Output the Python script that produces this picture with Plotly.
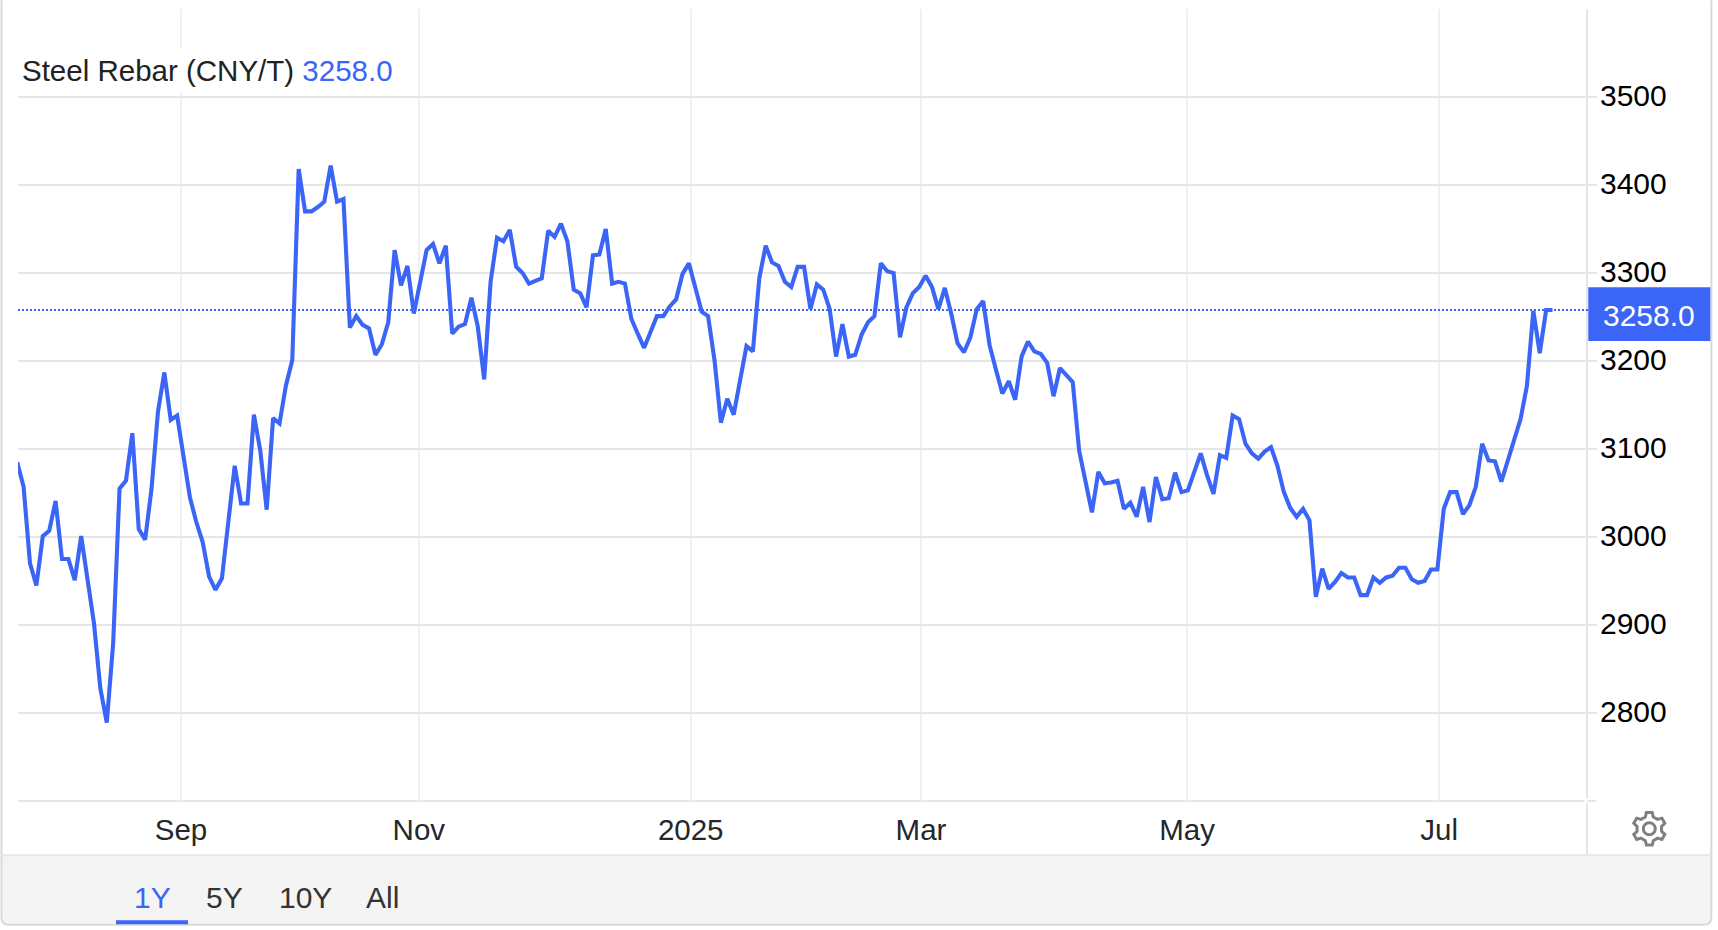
import math
import plotly.graph_objects as go

series_name = "Steel Rebar (CNY/T)"
values = [
    3085, 3057, 2970, 2945, 3001, 3007, 3041, 2975, 2975, 2951,
    3001, 2951, 2902, 2828, 2789, 2879, 3055, 3064, 3118, 3009,
    2997, 3055, 3142, 3187, 3133, 3138, 3091, 3045, 3017, 2994,
    2955, 2940, 2953, 3021, 3081, 3038, 3038, 3139, 3098, 3031,
    3135, 3129, 3172, 3201, 3418, 3370, 3370, 3375, 3381, 3422,
    3381, 3384, 3238, 3251, 3241, 3237, 3207, 3219, 3244, 3326,
    3286, 3308, 3254, 3290, 3326, 3333, 3311, 3331, 3231, 3239,
    3242, 3272, 3239, 3179, 3290, 3340, 3336, 3349, 3307, 3300,
    3288, 3291, 3294, 3348, 3341, 3356, 3336, 3281, 3277, 3261,
    3320, 3321, 3350, 3288, 3290, 3288, 3248, 3231, 3215, 3233,
    3251, 3251, 3262, 3270, 3299, 3311, 3284, 3256, 3251, 3201,
    3130, 3157, 3139, 3178, 3217, 3211, 3294, 3331, 3312, 3308,
    3290, 3284, 3307, 3307, 3259, 3287, 3281, 3259, 3205, 3242,
    3205, 3207, 3230, 3244, 3251, 3311, 3302, 3300, 3227, 3261,
    3277, 3284, 3297, 3284, 3259, 3283, 3254, 3220, 3210, 3227,
    3259, 3268, 3218, 3190, 3163, 3177, 3156, 3205, 3222, 3211,
    3208, 3198, 3160, 3192, 3184, 3176, 3098, 3064, 3028, 3074,
    3061, 3062, 3064, 3032, 3039, 3023, 3057, 3017, 3068, 3043,
    3044, 3073, 3051, 3053, 3075, 3095, 3070, 3049, 3093, 3090,
    3138, 3134, 3106, 3095, 3089, 3097, 3102, 3081, 3051, 3033,
    3023, 3032, 3019, 2932, 2964, 2941, 2949, 2959, 2954, 2954,
    2934, 2934, 2954, 2948, 2954, 2956, 2965, 2965, 2952, 2948,
    2950, 2963, 2963, 3032, 3051, 3051, 3026, 3036, 3057, 3106,
    3087, 3086, 3063, 3086, 3110, 3134, 3172, 3257, 3209, 3258,
    3258,
]
trading_day = list(range(len(values)))
month_ticks = [25.61, 62.78, 105.28, 141.28, 182.88, 222.28]
month_labels = ["Sep", "Nov", "2025", "Mar", "May", "Jul"]
price_ticks = [2800, 2900, 3000, 3100, 3200, 3300, 3400, 3500]
range_buttons = ["1Y", "5Y", "10Y", "All"]
last_value = 3258.0

W, H = 1718, 930
L, R, T, B = 18, 1586.7, 8.7, 800.7
X0, STEP = 17.2, 6.396
BLUE = "#3b65f6"
FONT = "Liberation Sans"


def px(x):
    return (x - L) / (R - L)


def py(y):
    return (B - y) / (B - T)


def rect(x0, y0, x1, y1, fill, layer="below"):
    return dict(type="rect", xref="paper", yref="paper", x0=px(x0), x1=px(x1),
                y0=py(y0), y1=py(y1), fillcolor=fill, line=dict(width=0), layer=layer)


def seg(x0, y0, x1, y1, color, width=2, layer="below"):
    return dict(type="line", xref="paper", yref="paper", x0=px(x0), x1=px(x1),
                y0=py(y0), y1=py(y1), line=dict(color=color, width=width), layer=layer)


def frame_path(top, close):
    r = 7
    xl, xr, yb = 1.5, 1711, 924.5
    def p(a, b):
        return f"{px(a):.6f},{py(b):.6f}"
    d = (f"M{p(xl, top)} L{p(xl, yb - r)} Q{p(xl, yb)} {p(xl + r, yb)} "
         f"L{p(xr - r, yb)} Q{p(xr, yb)} {p(xr, yb - r)} L{p(xr, top)}")
    return d + (" Z" if close else "")


def gear_path(cx, cy, teeth=6, ro=16.5, ri=12.5):
    pts = []
    n = teeth
    for k in range(n):
        a = 2 * math.pi * k / n - math.pi / 2
        w = math.pi / n
        for da, rad in ((-0.62 * w, ri), (-0.34 * w, ro), (0.34 * w, ro), (0.62 * w, ri)):
            pts.append((cx + rad * math.cos(a + da), cy + rad * math.sin(a + da)))
    s = "M" + " L".join(f"{px(a):.6f},{py(b):.6f}" for a, b in pts) + " Z"
    return s


shapes = [
    dict(type="path", xref="paper", yref="paper", path=frame_path(855, True),
         fillcolor="#f4f4f4", line=dict(width=0), layer="below"),
    dict(type="path", xref="paper", yref="paper", path=frame_path(0, False),
         line=dict(color="#d9d9d9", width=2), layer="below"),
    seg(1.5, 855, 1711, 855, "#e6e6e6"),
    rect(1584, T, 1586, B, "#ffffff", "between"),
    seg(18, B, 1584, B, "#e6e6e6", 2, "between"),
    seg(1587, B, 1596, B, "#e6e6e6"),
    seg(1586.7, T, 1586.7, 798.5, "#e6e6e6"),
    seg(1586.7, 803, 1586.7, 855, "#e6e6e6"),
    dict(type="line", xref="paper", yref="y", x0=0, x1=px(1588), y0=last_value, y1=last_value,
         line=dict(color=BLUE, width=2, dash="2px,2px"), layer="above"),
    rect(1588, 287, 1710, 340.7, BLUE, "above"),
    rect(116, 920, 188, 924, BLUE, "above"),
    dict(type="path", xref="paper", yref="paper", path=gear_path(1649, 828.5),
         line=dict(color="#808080", width=3), layer="above"),
    dict(type="circle", xref="paper", yref="paper", x0=px(1643), x1=px(1655),
         y0=py(822.5), y1=py(834.5), line=dict(color="#808080", width=3), layer="above"),
]

button_x = [152.7, 224.5, 305, 382.7]
annotations = [
    dict(xref="paper", yref="paper", x=px(16), y=py(70), xanchor="left", yanchor="middle",
         text=f"{series_name} <span style='color:{BLUE}'>{last_value:.1f}</span>",
         showarrow=False, bgcolor="#ffffff", borderpad=6, borderwidth=0,
         font=dict(family=FONT, size=29.5, color="#222222")),
    dict(xref="paper", yref="paper", x=px(1649), y=py(315), xanchor="center", yanchor="middle",
         text=f"{last_value:.1f}", showarrow=False,
         font=dict(family=FONT, size=30, color="#ffffff")),
]
for i, (lbl, xc) in enumerate(zip(range_buttons, button_x)):
    annotations.append(dict(xref="paper", yref="paper", x=px(xc), y=py(897), xanchor="center",
                            yanchor="middle", text=lbl, showarrow=False,
                            font=dict(family=FONT, size=30, color=BLUE if i == 0 else "#333333")))

fig = go.Figure(go.Scatter(x=trading_day, y=values, mode="lines",
                           line=dict(color=BLUE, width=4.1), hoverinfo="skip"))
fig.update_layout(
    width=W, height=H, autosize=False, showlegend=False,
    paper_bgcolor="#ffffff", plot_bgcolor="#ffffff",
    margin=dict(l=L, r=W - R, t=T, b=H - B, pad=0, autoexpand=False),
    shapes=shapes, annotations=annotations,
    xaxis=dict(range=[(L - X0) / STEP, (R - X0) / STEP], tickmode="array",
               tickvals=month_ticks, ticktext=month_labels, showgrid=True,
               gridcolor="#eff2f5", gridwidth=2, zeroline=False, showline=False,
               ticks="", ticklabelstandoff=8,
               tickfont=dict(family=FONT, size=29.5, color="#25272c")),
    yaxis=dict(range=[2700, 3600], side="right", tickmode="array", tickvals=price_ticks,
               ticktext=[str(v) for v in price_ticks], showgrid=True, gridcolor="#e6e6e6",
               gridwidth=2, zeroline=False, showline=False, ticks="outside", ticklen=9,
               tickwidth=2, tickcolor="#e6e6e6", ticklabelstandoff=-3, ticklabelshift=-2,
               tickfont=dict(family=FONT, size=30, color="#000000")),
)
fig.write_html("out.html", config=dict(displayModeBar=False),
               post_script="document.body.style.margin='0';document.body.style.overflow='hidden';")
